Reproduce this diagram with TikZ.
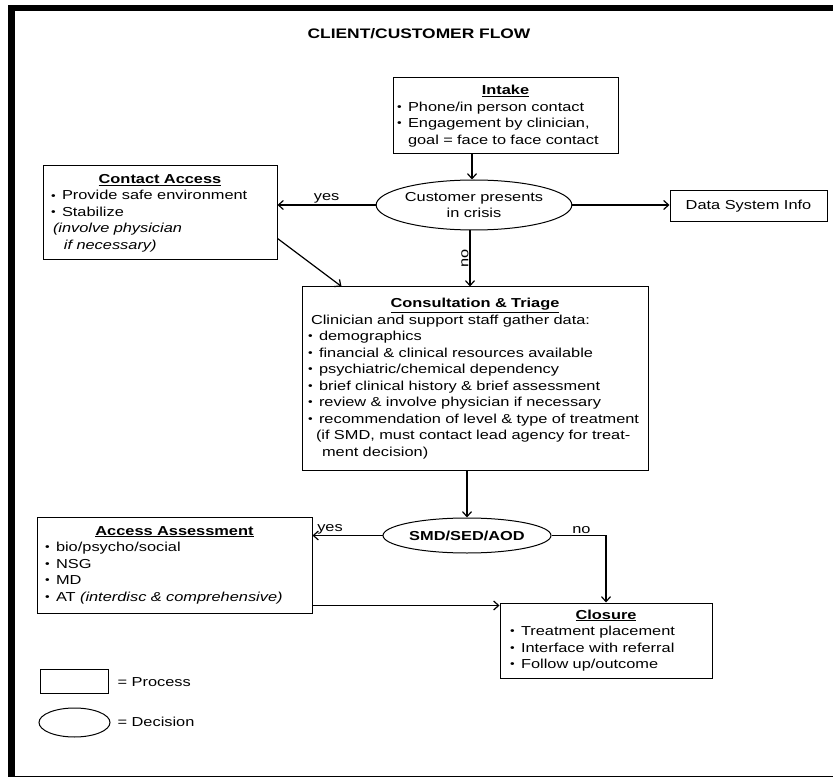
\documentclass[tikz,border=0pt]{standalone}
\usepackage{graphicx}
\usepackage{fontspec}
\setmainfont{Liberation Sans}[FakeStretch=1.26]
\usetikzlibrary{shapes.geometric,arrows.meta}

% small list bullet followed by a fixed gap
\newcommand\itembul{\makebox[11pt][l]{\raisebox{0.1ex}{\scalebox{0.8}{•}}}}
% centred, bold, underlined box heading
\newcommand\boxhead[1]{\hspace*{\fill}\textbf{\underline{#1}}\hspace*{\fill}\mbox{}}

\begin{document}
\begin{tikzpicture}[x=1pt,y=-1pt,
  every node/.style={font=\fontsize{13}{16.5}\selectfont, text=black},
  proc/.style={draw, line width=1pt, rectangle, inner ysep=0pt, align=left},
  decision/.style={draw, line width=1pt, ellipse, inner sep=0pt, align=center},
  arr/.style={draw, line width=1.2pt, -{Straight Barb[length=5pt,width=9pt]}},
  lbl/.style={inner sep=1pt}]

\useasboundingbox (0,0) rectangle (833,778);

% page frame
\fill (8,5) rectangle (833,11);
\fill (8,5) rectangle (15,777);
\draw[line width=1.5pt] (8,776.5) -- (833,776.5);

% heading
\node[font=\fontsize{13.8}{16}\selectfont\bfseries] (title) at (419,34) {CLIENT/CUSTOMER FLOW};

% process boxes
\node[proc, minimum width=225pt, minimum height=76pt, text width=217pt, inner xsep=4pt] (intake) at (505.5,116)
  {\boxhead{Intake}\\
   \itembul Phone/in person contact\\
   \itembul Engagement by clinician,\\
   \hspace*{11pt}goal = face to face contact};

\node[proc, minimum width=234pt, minimum height=94pt, text width=218pt, inner xsep=8pt] (contact) at (160,213)
  {\boxhead{Contact Access}\\
   \itembul Provide safe environment\\
   \itembul Stabilize\\
   \hspace*{2pt}\textit{(involve physician}\\
   \hspace*{13pt}\textit{if necessary)}};

\node[proc, minimum width=157pt, minimum height=31pt, align=center, inner xsep=4pt] (ds) at (748.5,206.5)
  {Data System Info};

\node[proc, minimum width=346pt, minimum height=183pt, text width=334pt, inner xsep=6pt] (consult) at (475,378.5)
  {\boxhead{Consultation \& Triage}\\
   \hspace*{3pt}Clinician and support staff gather data:\\
   \itembul demographics\\
   \itembul financial \& clinical resources available\\
   \itembul psychiatric/chemical dependency\\
   \itembul brief clinical history \& brief assessment\\
   \itembul review \& involve physician if necessary\\
   \itembul recommendation of level \& type of treatment\\
   \hspace*{8pt}(if SMD, must contact lead agency for treat-\\
   \hspace*{14pt}ment decision)};

\node[proc, minimum width=275pt, minimum height=96pt, text width=259pt, inner xsep=8pt] (aa) at (174.5,565)
  {\boxhead{Access Assessment}\\
   \itembul bio/psycho/social\\
   \itembul NSG\\
   \itembul MD\\
   \itembul AT \textit{(interdisc \& comprehensive)}};

\node[proc, minimum width=212pt, minimum height=75pt, text width=192pt, inner xsep=10pt] (closure) at (606,640.5)
  {\boxhead{Closure}\\
   \itembul Treatment placement\\
   \itembul Interface with referral\\
   \itembul Follow up/outcome};

% decisions
\node[decision, minimum width=154pt, minimum height=50pt] (crisis) at (474,205)
  {Customer presents\\in crisis};
\node[decision, minimum width=168pt, minimum height=35pt, font=\fontsize{13}{16.5}\selectfont\bfseries] (smd) at (467,535.5)
  {SMD/SED/AOD};

% connectors
\draw[arr] ([xshift=-2pt]crisis.north |- intake.south) -- ([xshift=-2pt]crisis.north);
\draw[arr] (crisis.west) -- node[lbl, above] {yes} (crisis.west -| contact.east);
\draw[arr] (crisis.east) -- (crisis.east -| ds.west);
\draw[arr] ([xshift=-4pt]crisis.south) -- node[lbl, rotate=90, above] {no} ([xshift=-4pt]crisis.south |- consult.north);
\draw[arr] ([yshift=22pt]contact.south east) -- ([xshift=40pt]consult.north west);
\draw[arr] (consult.south -| smd.north) -- (smd.north);
\draw[arr] (smd.west) -- node[lbl, pos=0.75, above] {yes} (smd.west -| aa.east);
\draw[arr] (smd.east) -- node[lbl, above, pos=0.55] {no} (smd.east -| closure.north) -- (closure.north);
\draw[arr] ([yshift=8pt]aa.south east) -- ([yshift=8pt]aa.south east -| closure.west);

% legend
\node[draw, line width=1pt, rectangle, minimum width=68pt, minimum height=24pt, inner sep=0pt] (legproc) at (74,681) {};
\node[anchor=west] (legproctext) at (114,682) {= Process};
\node[draw, line width=1pt, ellipse, minimum width=71pt, minimum height=29pt, inner sep=0pt] (legdec) at (74.5,722.5) {};
\node[anchor=west] (legdectext) at (114,722) {= Decision};

\end{tikzpicture}
\end{document}
